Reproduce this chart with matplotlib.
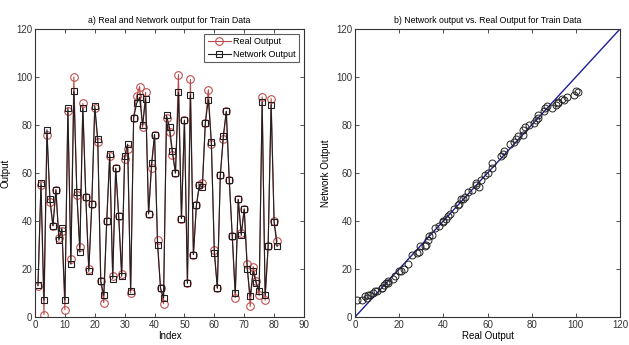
import matplotlib
matplotlib.use("Agg")
import matplotlib.pyplot as plt
import numpy as np

index = list(range(1, 82))
real_output = [13, 55, 1, 76, 48, 38, 53, 33, 36, 3,
               86, 24, 100, 51, 29, 89, 50, 20, 47, 87,
               73, 15, 6, 40, 67, 17, 62, 42, 18, 66,
               70, 10, 83, 92, 96, 79, 93.6, 43, 62, 76,
               32, 12, 5.5, 83, 77, 67.6, 60, 101, 41, 82,
               14, 99, 26, 46.5, 55, 56, 81, 94.7, 72, 28,
               12, 59, 74, 85.7, 57, 33.6, 8, 49, 35, 45,
               22, 4.4, 21, 15, 9, 91.7, 7, 29.4, 91, 40,
               31.5]
network_output = [13.2, 56, 7, 78, 49, 38, 53, 32, 37, 7,
                  87, 22, 94, 52, 27, 87, 50, 19, 47, 88,
                  74, 15, 9, 40, 68, 16, 62, 42, 17, 67,
                  72, 11, 83, 89, 91.5, 80, 91, 43, 64, 76,
                  30, 12, 8, 84, 79, 69, 60, 93.6, 41, 82,
                  14, 92.6, 26, 46.5, 55, 54, 81, 90.6, 73, 26.7,
                  12, 59, 75.5, 85.7, 57, 33.6, 10, 49, 34, 45,
                  20, 8.6, 19, 14, 11, 89.4, 9, 29.4, 88.5, 39.4,
                  29.4]
ideal_line = [0, 120]

plt.rcParams['font.family'] = ['Liberation Sans', 'DejaVu Sans']

fig = plt.figure(figsize=(6.29, 3.45), dpi=100)
W, H = 629, 345
ax1 = fig.add_axes([35 / W, (H - 317) / H, (304 - 35) / W, (317 - 29) / H])
ax2 = fig.add_axes([355 / W, (H - 317) / H, (620 - 355) / W, (317 - 29) / H])

red = '#b84a4a'
ax1.plot(index, real_output, '-o', color=red, lw=0.8, ms=5.5,
         mfc='none', mec='#c05050', mew=0.8, label='Real Output')
ax1.plot(index, network_output, '-s', color='#202020', lw=0.8, ms=5,
         mfc='none', mec='#202020', mew=0.8, label='Network Output')
ax1.set_xlim(0, 90)
ax1.set_ylim(0, 120)
ax1.set_xticks(np.arange(0, 91, 10))
ax1.set_yticks(np.arange(0, 121, 20))
ax1.set_xlabel('Index', fontsize=7, labelpad=1)
ax1.set_ylabel('Output', fontsize=7, labelpad=4)
ax1.set_title('a) Real and Network output for Train Data', fontsize=6.3, pad=4)
leg = ax1.legend(loc='upper right', fontsize=6.5, frameon=True, fancybox=False,
                 edgecolor='#333333', borderpad=0.4, handlelength=2.5,
                 handletextpad=0.3, labelspacing=0.4, borderaxespad=0.5)
leg.get_frame().set_linewidth(0.8)

ax2.plot(ideal_line, ideal_line, '-', color='#1f1f9a', lw=1.0)
ax2.plot(real_output, network_output, 'o', ms=5, mfc='none',
         mec='#222222', mew=0.7, ls='none')
ax2.set_xlim(0, 120)
ax2.set_ylim(0, 120)
ax2.set_xticks(np.arange(0, 121, 20))
ax2.set_yticks(np.arange(0, 121, 20))
ax2.set_xlabel('Real Output', fontsize=7, labelpad=1)
ax2.set_ylabel('Network Output', fontsize=7, labelpad=4)
ax2.set_title('b) Network output vs. Real Output for Train Data', fontsize=6.3, pad=4)

for ax in (ax1, ax2):
    ax.tick_params(direction='in', top=True, right=True, labelsize=7,
                   length=3, width=0.6, pad=2, colors='#333333')
    for s in ax.spines.values():
        s.set_linewidth(0.8)
        s.set_color('#333333')

fig.savefig('out.png', dpi=100)
